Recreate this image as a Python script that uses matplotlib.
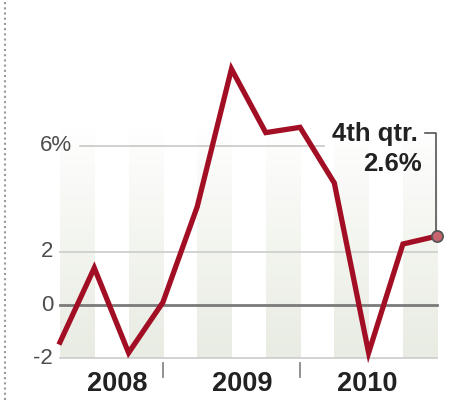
import matplotlib
matplotlib.use("Agg")
import numpy as np
import matplotlib.pyplot as plt
from matplotlib.colors import LinearSegmentedColormap

# quarterly values, 2008 Q1 .. 2010 Q4 (percent)
quarters = list(range(12))
values = [-1.4, 1.4, -1.8, 0.1, 3.7, 8.9, 6.5, 6.7, 4.6, -1.8, 2.3, 2.6]
y_ticks = [-2, 0, 2, 6]
y_labels = ["-2", "0", "2", "6%"]
years = ["2008", "2009", "2010"]
year_pos = [1.67, 5.32, 8.97]
year_ticks = [3, 7]

red = "#a20f24"
plt.rcParams['font.family'] = ['Liberation Sans', 'DejaVu Sans']

fig = plt.figure(figsize=(4.54, 4.0), dpi=100)
ax = fig.add_axes([0, 0, 1, 1])
ax.set_xlim(-1.75, 11.49)
ax.set_ylim(-3.58, 11.5)
ax.axis("off")

# shaded stripes, fading to white toward the top
fade = LinearSegmentedColormap.from_list("fade", ["#ffffff", "#f3f5ef", "#e9ece3"])
grad = np.linspace(0, 1, 64).reshape(-1, 1)
for i in range(0, 12, 2):
    ax.imshow(grad, cmap=fade, aspect="auto", extent=[i, i + 1, -2, 6.8],
              origin="upper", zorder=0, interpolation="bilinear")

# gridlines
ax.plot([0.58, 7.7], [6, 6], color="#c8c8c8", lw=1.2, zorder=1)
ax.plot([0, 11], [2, 2], color="#cccccc", lw=1.2, zorder=1)
ax.plot([0, 11], [-2, -2], color="#cccccc", lw=1.2, zorder=1)
ax.plot([0, 11], [0, 0], color="#7a7a7a", lw=2, zorder=1)

# y labels
for v, lab in zip(y_ticks, y_labels):
    if lab.endswith("%"):
        ax.text(-0.6, v, lab, ha="left", va="center", fontsize=16, color="#4d4d4d")
    else:
        ax.text(-0.2, v, lab, ha="right", va="center", fontsize=16, color="#4d4d4d")

# year labels and ticks
for x, lab in zip(year_pos, years):
    ax.text(x, -2.98, lab, ha="center", va="center", fontsize=19.5, fontweight="bold", color="#222222")
for x in year_ticks:
    ax.plot([x, x], [-2.2, -2.7], color="#888888", lw=1.3)

# the line
ax.plot(quarters, values, color=red, lw=3.8, solid_joinstyle="miter", zorder=3)
ax.plot(quarters[-1], values[-1], "o", ms=8, mfc="#c7646e", mec="#555555", mew=1.3, zorder=4)

# annotation bracket
ax.plot([10.64, 10.97, 10.97], [6.5, 6.5, values[-1]], color="#555555", lw=1.2, zorder=2)
ax.text(10.45, 6.45, "4th qtr.", ha="right", va="center", fontsize=18.5, fontweight="bold", color="#222222")
ax.text(10.55, 5.3, "2.6%", ha="right", va="center", fontsize=18.5, fontweight="bold", color="#222222")

# dotted left border
ax.plot([-1.6, -1.6], [-3.58, 11.5], color="#999999", lw=1.5, ls=(0, (1, 1.5)))

fig.savefig("out.png", dpi=100)
